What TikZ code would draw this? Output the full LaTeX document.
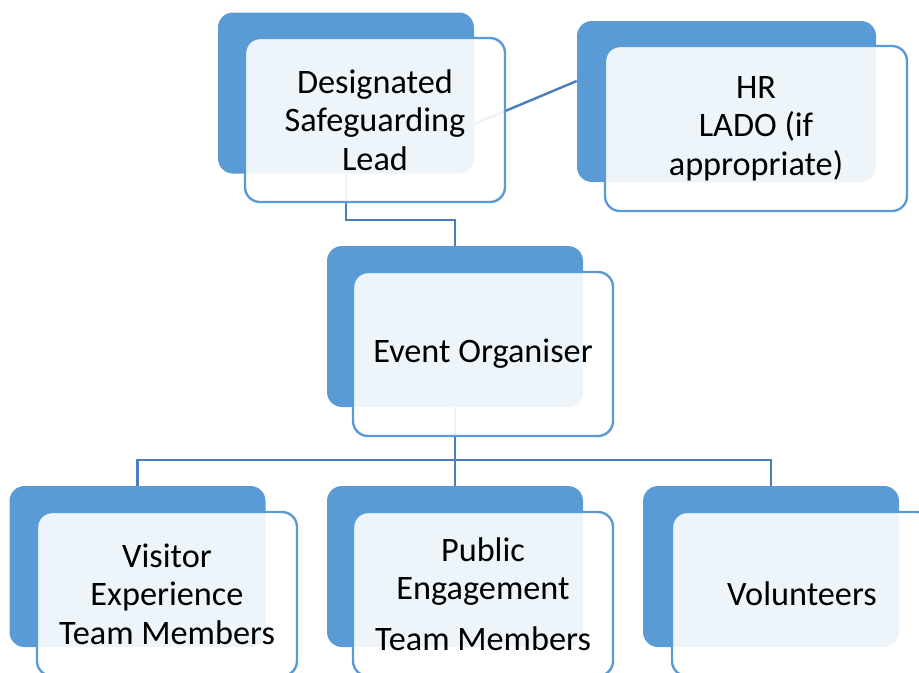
\documentclass[tikz,border=0pt]{standalone}
\usepackage{fontspec}
\setmainfont{Carlito}
\usetikzlibrary{calc}
\definecolor{boxblue}{HTML}{5B9BD5}
\definecolor{linkblue}{RGB}{74,126,187}
\tikzset{
  backbox/.style={fill=boxblue, draw=none, rounded corners=11.25pt, inner sep=0pt,
    minimum width=192pt, minimum height=120.75pt},
  frontbox/.style={fill=white, fill opacity=0.9, text opacity=1, draw=boxblue, line width=1.8pt,
    rounded corners=11.25pt, inner sep=0pt, align=center,
    minimum width=195pt, minimum height=123pt,
    font=\fontsize{25.7}{28.8}\selectfont},
  conn/.style={draw=linkblue, line width=1.8pt}
}
\begin{document}
\begin{tikzpicture}[x=0.75pt,y=-0.75pt]
\useasboundingbox (0,0) rectangle (919,672);
% back boxes
\node[backbox] (dslb) at (346,93) {};
\node[backbox, minimum width=224.25pt] (hrb) at (726.5,101.5) {};
\node[backbox] (eob) at (455,326.5) {};
\node[backbox] (visb) at (137.5,566.5) {};
\node[backbox] (pubb) at (455,566.5) {};
\node[backbox] (volb) at (771,566.5) {};
% connectors
\coordinate (elbow) at (0,220);
\coordinate (bus) at (0,460);
\draw[conn] (dslb.south) -- (dslb.south |- elbow) -| (eob.north);
\draw[conn] ($(dslb.east)+(0,31)$) coordinate (hrstart) -- ($(hrb.west)+(0,-20.5)$) coordinate (hrend);
\draw[conn] (eob.south) -- (pubb.north);
\draw[conn] (visb.north) |- (volb.north |- bus) -- (volb.north);
% front boxes
\node[frontbox] (dsl) at (375,120) {Designated\\Safeguarding\\Lead};
\node[frontbox, minimum width=226.5pt, minimum height=123.75pt] (hr) at (756,128.5) {HR\\LADO (if\\appropriate)};
\node[frontbox] (eo) at (483,354) {Event Organiser};
\node[frontbox] (vis) at (167,594) {Visitor\\Experience\\Team Members};
\node[frontbox] (pub) at (483,594) {Public\\Engagement\\[9pt]Team Members};
\node[frontbox] (vol) at (802,594) {Volunteers};
\end{tikzpicture}
\end{document}
